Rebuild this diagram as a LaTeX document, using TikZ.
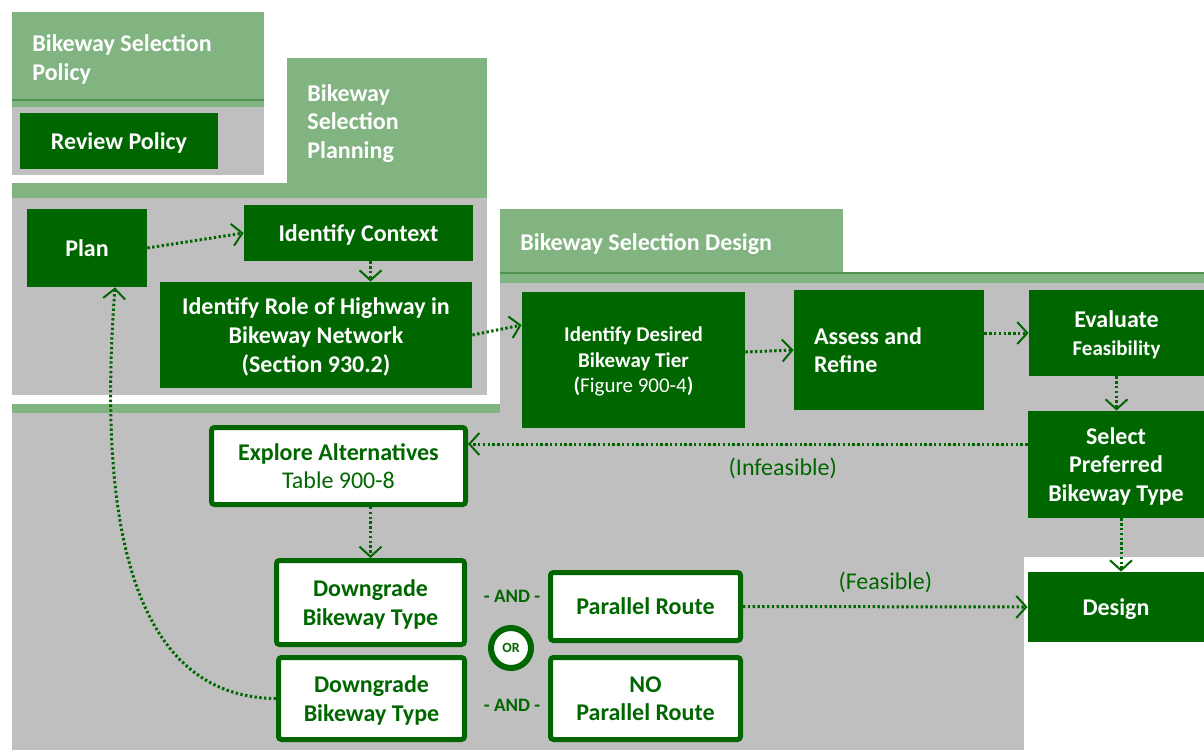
\documentclass[tikz,border=0pt]{standalone}
\usepackage{fontspec}
\setmainfont{Carlito}
\usetikzlibrary{arrows.meta,calc}
\definecolor{dkg}{RGB}{0,102,0}
\definecolor{ltg}{RGB}{130,180,130}
\definecolor{midg}{RGB}{80,145,80}
\definecolor{gry}{RGB}{191,191,191}
\newcommand{\fsA}{\fontsize{12pt}{14.3pt}\selectfont}
\newcommand{\fsB}{\fontsize{10.5pt}{12.8pt}\selectfont}
\begin{document}
\begin{tikzpicture}[x=0.5pt,y=-0.5pt,
  dk/.style={fill=dkg, text=white, font=\bfseries\fsA, align=center, inner sep=0pt, text depth=0pt},
  wb/.style={draw=dkg, line width=2.5pt, fill=white, text=dkg, rounded corners=1.5pt, font=\bfseries\fsA, align=center, inner sep=0pt, text depth=0pt},
  hdr/.style={text=white, font=\bfseries\fsA, align=left, inner sep=0pt, anchor=west, text depth=0pt},
  lbl/.style={text=dkg, font=\fsA, inner sep=0pt},
  andlbl/.style={text=dkg, font=\bfseries\fontsize{9.5pt}{11pt}\selectfont, inner sep=0pt},
  flow/.style={draw=dkg, line width=1.5pt, dash pattern=on 1.2pt off 1.2pt,
     -{Straight Barb[length=5pt,width=11pt,line width=1pt]}}
]
\useasboundingbox (0,0) rectangle (1204,750);
% backgrounds
\fill[ltg] (12,12) rectangle (264,107);
\draw[midg, line width=0.6pt] (12,100) -- (264,100);
\fill[gry] (12,107) rectangle (264,175);
\fill[ltg] (287,58) rectangle (487,198);
\fill[ltg] (12,183) rectangle (487,198);
\fill[gry] (12,198) rectangle (487,395);
\fill[ltg] (500,209) rectangle (843,283);
\fill[ltg] (843,273) rectangle (1204,283);
\draw[midg, line width=0.6pt] (500,273) -- (1204,273);
\fill[gry] (500,283) rectangle (1204,557);
\fill[ltg] (12,404) rectangle (500,413);
\fill[gry] (12,413) rectangle (1024,750);
\fill[gry] (500,413) rectangle (1204,557);
% headers
\node[hdr] (hpol) at (32,57.5) {Bikeway Selection\\Policy};
\node[hdr] (hplan) at (307,121.5) {Bikeway\\Selection\\Planning};
\node[hdr] (hdes) at (520,242) {Bikeway Selection Design};
% dark boxes
\node[dk, minimum width=99pt, minimum height=28pt] (review) at (119,141) {Review Policy};
\node[dk, minimum width=60pt, minimum height=39pt] (plan) at (87,248) {Plan};
\node[dk, minimum width=114.5pt, minimum height=28pt] (ctx) at (358.5,233) {Identify Context};
\node[dk, minimum width=156pt, minimum height=53pt] (role) at (316,335) {Identify Role of Highway in\\Bikeway Network\\(Section 930.2)};
\node[dk, minimum width=111.5pt, minimum height=68pt, font=\bfseries\fsB] (tier) at (633.5,360) {Identify Desired\\Bikeway Tier\\({\mdseries Figure 900-4})};
\node[dk, minimum width=95pt, minimum height=60pt, text width=75pt, align=flush left, text depth={}] (assess) at (889,350) {Assess and\\Refine};
\node[dk, minimum width=87.5pt, minimum height=43pt] (eval) at (1116.5,333) {Evaluate\\{\fsB Feasibility}};
\node[dk, minimum width=88pt, minimum height=53.5pt] (select) at (1116,464.5) {Select\\Preferred\\Bikeway Type};
\node[dk, minimum width=88pt, minimum height=35pt] (design) at (1116,607) {Design};
% white boxes
\node[wb, minimum width=127pt, minimum height=38.5pt] (explore) at (338.5,466) {Explore Alternatives\\{\mdseries Table 900-8}};
\node[wb, minimum width=94pt, minimum height=42pt] (dg1) at (370.5,602.5) {Downgrade\\Bikeway Type};
\node[wb, minimum width=93pt, minimum height=41pt] (dg2) at (371.5,698.5) {Downgrade\\Bikeway Type};
\node[wb, minimum width=95pt, minimum height=34pt] (par) at (645.5,606.5) {Parallel Route};
\node[wb, minimum width=95pt, minimum height=41pt] (nopar) at (645.5,698.5) {NO\\Parallel Route};
\node[circle, draw=dkg, line width=3pt, fill=white, minimum size=20pt, inner sep=0pt, text=dkg, font=\bfseries\fontsize{7pt}{8pt}\selectfont] (or) at (511,648) {OR};
\node[andlbl] (and1) at (512,596) {- AND -};
\node[andlbl] (and2) at (512,705) {- AND -};
% connectors
\draw[flow] (plan.east) -- (ctx.west);
\draw[flow] ([xshift=6pt]ctx.south) -- ([xshift=6pt]ctx.south |- role.north);
\draw[flow] (role.east) -- ([yshift=17.5pt]tier.west);
\draw[flow] ([yshift=4pt]tier.east) -- (assess.west);
\draw[flow] (assess.east |- eval.west) -- (eval.west);
\draw[flow] (eval.south) -- (eval.south |- select.north);
\draw[flow] ([yshift=10.25pt]select.west) -- ([yshift=10.25pt]select.west -| explore.east)
   node[lbl, pos=0.4375, below=6pt] (infl) {(Infeasible)};
\draw[flow] ([xshift=2.5pt]select.south) -- ([xshift=2.5pt]select.south |- design.north);
\draw[flow] (dg1.north |- explore.south) -- (dg1.north);
\draw[flow] (par.east) -- (design.west) node[lbl, midway, above=6pt] (feasl) {(Feasible)};
\draw[flow] (dg2.west) .. controls (105,697) and (103,450) .. ([xshift=14pt]plan.south);
\end{tikzpicture}
\end{document}
